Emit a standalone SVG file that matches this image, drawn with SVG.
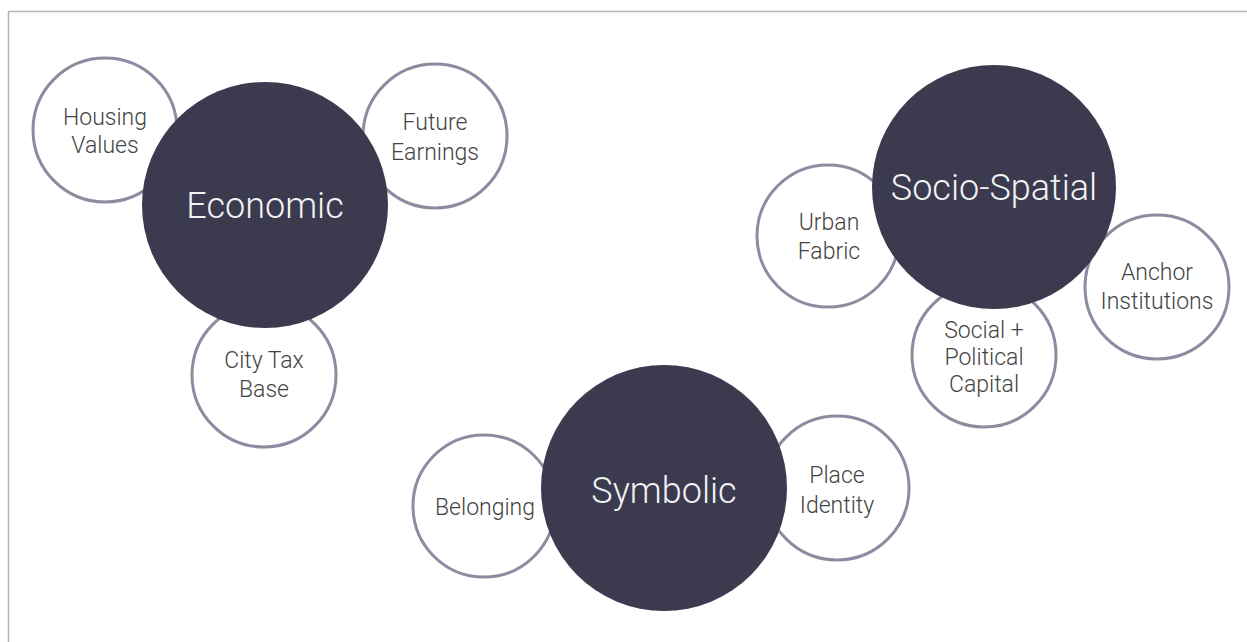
<svg xmlns="http://www.w3.org/2000/svg" width="1247" height="642" viewBox="0 0 1247 642">
  <style>
    .sat circle { fill: #ffffff; stroke: #8a8ca0; stroke-width: 3; }
    .hub circle { fill: #3b3a4f; stroke: none; }
    .sat text { font-family: Roboto, "Liberation Sans", sans-serif; font-weight: 300; font-size: 23px; fill: #444444; text-anchor: middle; }
    .hub text { font-family: Roboto, "Liberation Sans", sans-serif; font-weight: 300; font-size: 36px; fill: #f2f2f4; text-anchor: middle; }
    .frame { fill: none; stroke: #b4b4b4; stroke-width: 1.6; }
  </style>
  <rect width="1247" height="642" fill="#ffffff"/>
  <path class="frame" d="M8.5,642 V11.5 H1247"/>

  <g id="connectors"/>

  <g id="housing-values" class="sat">
    <circle cx="105" cy="130" r="72"/>
    <text x="105" y="125">Housing</text>
    <text x="105" y="153">Values</text>
  </g>
  <g id="future-earnings" class="sat">
    <circle cx="435" cy="136" r="72"/>
    <text x="435" y="130">Future</text>
    <text x="435" y="160">Earnings</text>
  </g>
  <g id="city-tax-base" class="sat">
    <circle cx="264" cy="375" r="72"/>
    <text x="264" y="368">City Tax</text>
    <text x="264" y="397">Base</text>
  </g>
  <g id="urban-fabric" class="sat">
    <circle cx="828" cy="236" r="71"/>
    <text x="829" y="230">Urban</text>
    <text x="829" y="259">Fabric</text>
  </g>
  <g id="anchor-institutions" class="sat">
    <circle cx="1157" cy="287" r="72"/>
    <text x="1157" y="280">Anchor</text>
    <text x="1157" y="309">Institutions</text>
  </g>
  <g id="social-political-capital" class="sat">
    <circle cx="984" cy="355" r="72"/>
    <text x="984" y="338">Social +</text>
    <text x="984" y="365">Political</text>
    <text x="984" y="392">Capital</text>
  </g>
  <g id="belonging" class="sat">
    <circle cx="484" cy="506" r="71"/>
    <text x="485" y="515">Belonging</text>
  </g>
  <g id="place-identity" class="sat">
    <circle cx="837" cy="488" r="72"/>
    <text x="837" y="483">Place</text>
    <text x="837" y="513">Identity</text>
  </g>

  <g id="economic" class="hub">
    <circle cx="265" cy="205" r="123"/>
    <text x="265" y="218">Economic</text>
  </g>
  <g id="socio-spatial" class="hub">
    <circle cx="994" cy="187" r="122"/>
    <text x="994" y="200">Socio-Spatial</text>
  </g>
  <g id="symbolic" class="hub">
    <circle cx="664" cy="488" r="123"/>
    <text x="664" y="503">Symbolic</text>
  </g>
</svg>
